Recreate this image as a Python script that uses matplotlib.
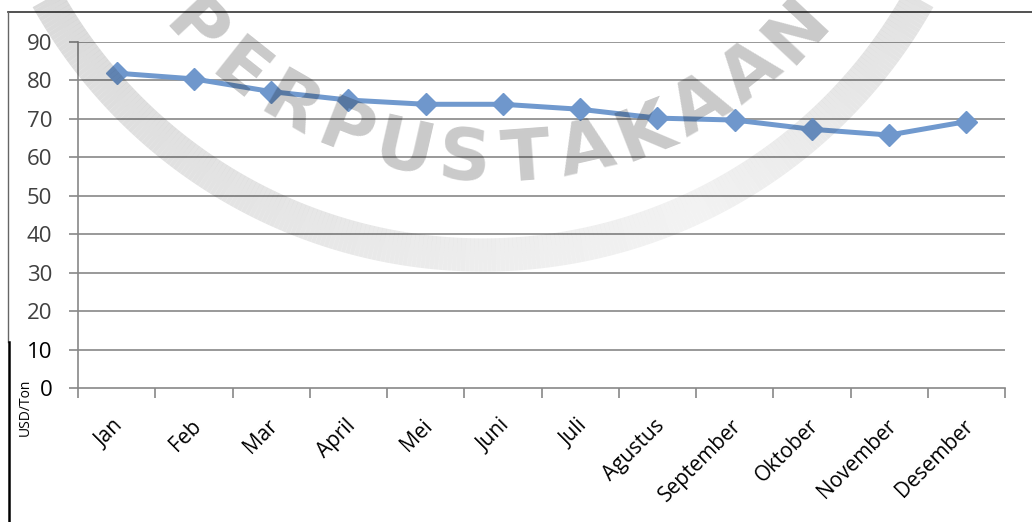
import numpy as np
import matplotlib.pyplot as plt
from matplotlib.lines import Line2D
from matplotlib.collections import LineCollection

plt.rcParams['font.family'] = ['Open Sans', 'DejaVu Sans']

bulan = ['Jan', 'Feb', 'Mar', 'April', 'Mei', 'Juni', 'Juli',
         'Agustus', 'September', 'Oktober', 'November', 'Desember']
harga = [81.9, 80.4, 77.1, 74.9, 73.8, 73.8, 72.5, 70.2, 69.7, 67.3, 65.8, 69.3]
yticks = [0, 10, 20, 30, 40, 50, 60, 70, 80, 90]

W, H = 1032, 522
fig = plt.figure(figsize=(W / 100, H / 100), dpi=100)

# main chart area (pixel box 78..1005 x 42..388)
ax = fig.add_axes([78 / W, 1 - 388 / H, (1005 - 78) / W, (388 - 42) / H])
x = np.arange(len(bulan))
ax.plot(x, harga, color='#7099CE', lw=3.6, marker='D', ms=11.5,
        markerfacecolor='#6F97CC', markeredgecolor='#6F97CC', zorder=3)

ax.set_xlim(-0.5, len(bulan) - 0.5)
ax.set_ylim(0, 90)
ax.set_yticks(yticks)
ax.set_yticklabels([str(v) for v in yticks], fontsize=16, color='#404040')
for lab in ax.get_yticklabels()[:2]:
    lab.set_color('black')
ax.tick_params(axis='y', length=6.5, width=1.2, color='#888888', pad=12)

# category boundaries as ticks, labels at centres
ax.set_xticks(np.arange(-0.5, len(bulan), 1.0))
ax.set_xticklabels([])
ax.set_xticks(x + 0.05, minor=True)
ax.set_xticklabels(bulan, minor=True, rotation=45, ha='right', va='center',
                   rotation_mode='anchor', fontsize=15, color='black')
ax.tick_params(axis='x', which='major', length=7, width=1.2, color='#888888')
ax.tick_params(axis='x', which='minor', length=0, pad=25)

for v in yticks[1:]:
    ax.axhline(v, color='#888888', lw=1.2, zorder=1)
for s in ['top', 'right']:
    ax.spines[s].set_visible(False)
for s in ['left', 'bottom']:
    ax.spines[s].set_color('#888888')
    ax.spines[s].set_linewidth(1.2)

fig.text(25 / W, 1 - 407 / H, 'USD/Ton', rotation=90, fontsize=10,
         ha='center', va='center', color='black')

# outer frame pieces
fig.add_artist(Line2D([8 / W, 1], [1 - 12 / H, 1 - 12 / H], color='#333333', lw=1.2))
fig.add_artist(Line2D([8 / W, 8 / W], [1 - 12 / H, 1 - 342 / H], color='#666666', lw=1.0))
fig.add_artist(Line2D([8.5 / W, 8.5 / W], [1 - 342 / H, 0], color='black', lw=1.8))

# watermark overlay in pixel coordinates
ov = fig.add_axes([0, 0, 1, 1], zorder=10)
ov.set_xlim(0, W)
ov.set_ylim(H, 0)
ov.axis('off')
ov.patch.set_alpha(0)

# arc band, darker at upper left, fading to the lower right
bx, by, br = 483, -244, 499
ang = np.radians(np.linspace(-75, 75, 301))
px = bx + br * np.sin(ang)
py = by + br * np.cos(ang)
segs = np.stack([np.column_stack([px[:-1], py[:-1]]),
                 np.column_stack([px[1:], py[1:]])], axis=1)
mid = np.degrees((ang[:-1] + ang[1:]) / 2)
alph = np.interp(mid, [-75, -40, 0, 25, 50, 75], [0.16, 0.12, 0.07, 0.05, 0.10, 0.13])
cols = np.zeros((len(mid), 4))
cols[:, 3] = alph
ov.add_collection(LineCollection(segs, colors=cols, linewidths=24, capstyle='butt'))

word = 'PERPUSTAKAAN'
cx, cy, r = 495, -250, 412
for i, ch in enumerate(word):
    phi = np.radians(-47 + i * 94 / (len(word) - 1))
    tx = cx + r * np.sin(phi)
    ty = cy + r * np.cos(phi)
    ov.text(tx, ty, ch, fontsize=52, fontweight='bold', family='DejaVu Sans',
            color='black', alpha=0.21, ha='center', va='center',
            rotation=np.degrees(phi), rotation_mode='anchor')

fig.savefig('out.png', dpi=100)
